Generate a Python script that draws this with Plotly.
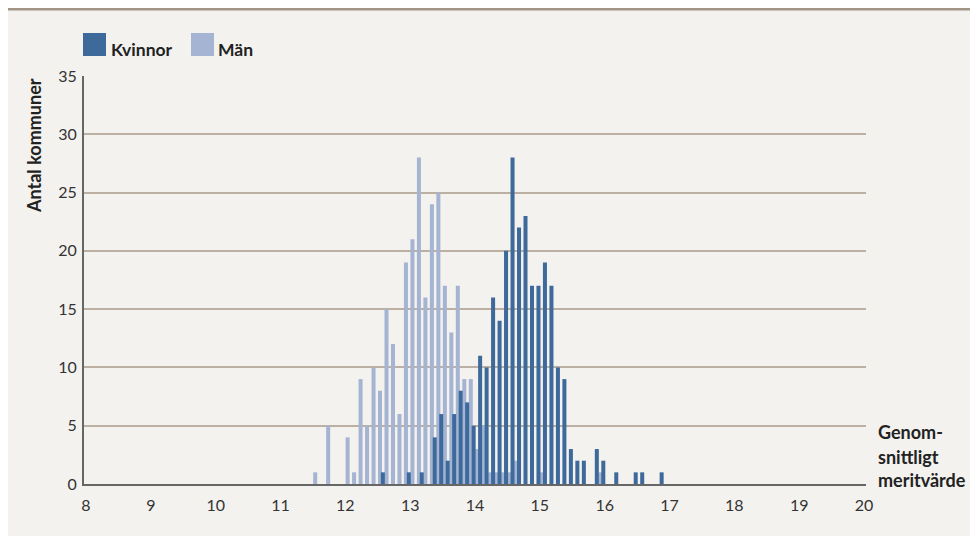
import plotly.graph_objects as go

# Histogram bins (genomsnittligt meritvärde, lower bound of 0.1-wide bin)
bins = [11.5, 11.6, 11.7, 11.8, 11.9, 12.0, 12.1, 12.2, 12.3, 12.4,
        12.5, 12.6, 12.7, 12.8, 12.9, 13.0, 13.1, 13.2, 13.3, 13.4,
        13.5, 13.6, 13.7, 13.8, 13.9, 14.0, 14.1, 14.2, 14.3, 14.4,
        14.5, 14.6, 14.7, 14.8, 14.9, 15.0, 15.1, 15.2, 15.3, 15.4,
        15.5, 15.6, 15.7, 15.8, 15.9, 16.0, 16.1, 16.2, 16.3, 16.4,
        16.5, 16.6, 16.7, 16.8]

man = [1, 0, 5, 0, 0, 4, 1, 9, 5, 10,
       8, 15, 12, 6, 19, 21, 28, 16, 24, 25,
       17, 13, 17, 9, 9, 3, 5, 1, 1, 1,
       1, 2, 0, 0, 0, 1, 0, 0, 0, 0,
       0, 0, 0, 0, 1, 0, 0, 0, 0, 0,
       0, 0, 0, 0]

kvinnor = [0, 0, 0, 0, 0, 0, 0, 0, 0, 0,
           1, 0, 0, 0, 1, 0, 1, 0, 4, 6,
           2, 6, 8, 7, 5, 11, 10, 16, 14, 20,
           28, 22, 23, 17, 17, 19, 17, 10, 9, 3,
           2, 2, 0, 3, 2, 0, 1, 0, 0, 1,
           1, 0, 0, 1]

series_names = ["Kvinnor", "Män"]
x_ticks = list(range(8, 21))
y_ticks = list(range(0, 36, 5))
x_title_lines = ["Genom-", "snittligt", "meritvärde"]
y_title = "Antal kommuner"

C_KV = "#3d6a9b"
C_MAN = "#a5b4d2"
BG = "#f3f2ee"
GRID = "#bcb0a3"
FONT = "Lato"

# page body has an 8px margin, so the figure is offset by 8px
OFF = 8
W, H = 978 - OFF, 536 - OFF
ML, MR, MT, MB = 76, 112, 68, 52
PW, PH = W - ML - MR, H - MT - MB


def px(x):
    return (x - OFF - ML) / PW


def py(y):
    return (H - MB - (y - OFF)) / PH


fig = go.Figure()
fig.add_trace(go.Bar(x=bins, y=man, name=series_names[1], marker_color=C_MAN,
                     marker_line_width=0, width=0.062, offset=0.004,
                     showlegend=False))
fig.add_trace(go.Bar(x=bins, y=kvinnor, name=series_names[0], marker_color=C_KV,
                     marker_line_width=0, width=0.062, offset=0.048,
                     showlegend=False))

shapes = [
    dict(type="rect", xref="paper", yref="paper", x0=px(0), x1=px(990),
         y0=py(550), y1=py(10), fillcolor=BG, line_width=0, layer="below"),
    dict(type="rect", xref="paper", yref="paper", x0=px(0), x1=px(990),
         y0=py(10.5), y1=py(7), fillcolor="#a39585", line_width=0, layer="below"),
    # legend swatches
    dict(type="rect", xref="paper", yref="paper", x0=px(83), x1=px(106),
         y0=py(56), y1=py(33), fillcolor=C_KV, line_width=0),
    dict(type="rect", xref="paper", yref="paper", x0=px(191), x1=px(214),
         y0=py(56), y1=py(33), fillcolor=C_MAN, line_width=0),
]

lab_font = dict(family=FONT, size=18, color="#222")
annotations = [
    dict(text="<b>%s</b>" % series_names[0], xref="paper", yref="paper",
         x=px(109), y=py(49), xanchor="left", yanchor="middle", showarrow=False,
         font=dict(family=FONT, size=17.5, color="#222")),
    dict(text="<b>%s</b>" % series_names[1], xref="paper", yref="paper",
         x=px(216), y=py(49), xanchor="left", yanchor="middle", showarrow=False,
         font=dict(family=FONT, size=17.5, color="#222")),
    dict(text="<b>%s</b>" % y_title, xref="paper", yref="paper",
         x=px(34), y=py(146), xanchor="center", yanchor="middle", textangle=-90,
         showarrow=False, font=lab_font),
]
for line, yc in zip(x_title_lines, [432, 457, 480]):
    annotations.append(dict(text="<b>%s</b>" % line, xref="paper", yref="paper",
                            x=px(876), y=py(yc), xanchor="left", yanchor="middle",
                            showarrow=False, font=lab_font))

fig.update_layout(
    width=W, height=H,
    margin=dict(l=ML, r=MR, t=MT, b=MB, pad=0),
    paper_bgcolor=BG,
    plot_bgcolor="rgba(0,0,0,0)",
    barmode="overlay",
    shapes=shapes,
    annotations=annotations,
    font=dict(family=FONT, size=16, color="#333"),
    xaxis=dict(range=[7.969, 20.031], tickvals=x_ticks, ticktext=[str(v) for v in x_ticks],
               showgrid=False, zeroline=False, showline=True, linecolor="#666",
               linewidth=2, ticks="", ticklabelstandoff=6,
               tickfont=dict(family=FONT, size=16, color="#333")),
    yaxis=dict(range=[0, 35], tickvals=y_ticks, showgrid=True, gridcolor=GRID,
               gridwidth=1.5, zeroline=False, showline=True, linecolor="#666",
               linewidth=2, ticks="", ticklabelstandoff=2,
               tickfont=dict(family=FONT, size=16, color="#333")),
)

fig.write_html("out.html")
